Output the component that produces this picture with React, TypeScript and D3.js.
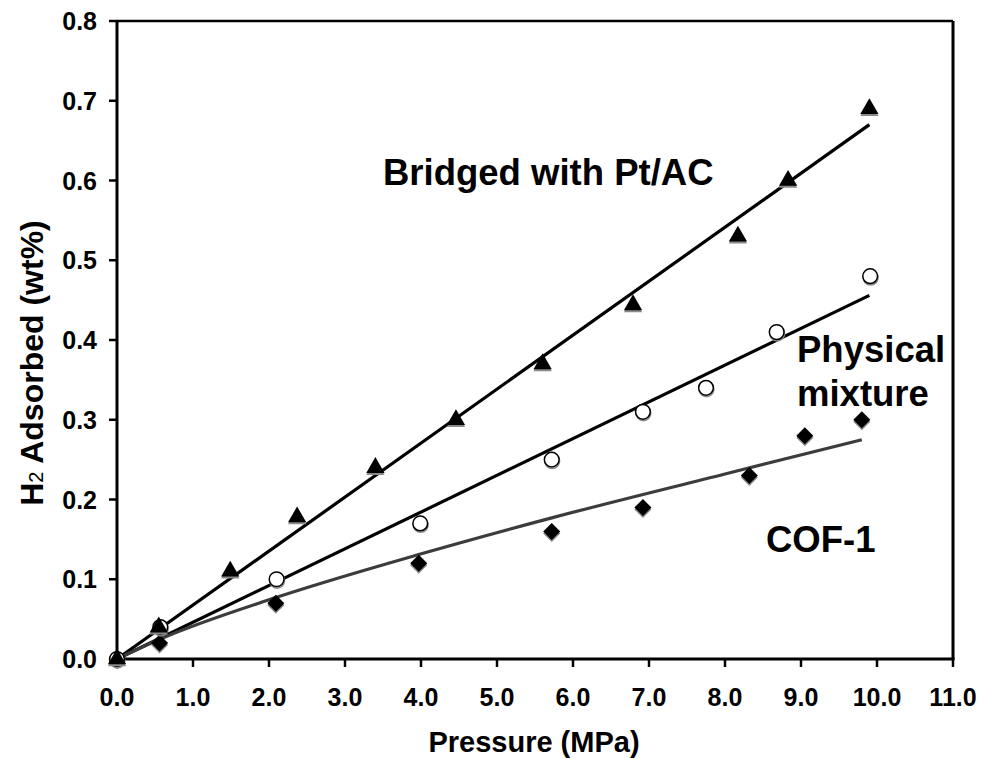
import * as d3 from 'd3';
import React from 'react';

// readings: pressure (MPa) vs H2 adsorbed (wt%)
const bridgedX = [0, 0.55, 1.49, 2.37, 3.4, 4.46, 5.6, 6.79, 8.17, 8.83, 9.9];
const bridgedY = [0, 0.04, 0.11, 0.178, 0.24, 0.30, 0.37, 0.444, 0.53, 0.60, 0.69];

const physicalX = [0, 0.57, 2.1, 3.99, 5.72, 6.92, 7.75, 8.68, 9.91];
const physicalY = [0, 0.04, 0.10, 0.17, 0.25, 0.31, 0.34, 0.41, 0.48];

const cofX = [0, 0.56, 2.09, 3.97, 5.72, 6.92, 8.32, 9.05, 9.8];
const cofY = [0, 0.02, 0.07, 0.12, 0.16, 0.19, 0.23, 0.28, 0.30];

// trend lines as drawn in the picture
const bridgedFit = [[0, 0], [9.9, 0.67]];
const physicalFit = [[0, 0], [9.9, 0.456]];
const cofFit = [[0, 0], [0.57, 0.025], [2.09, 0.077], [3.97, 0.131], [5.72, 0.177], [8.0, 0.232], [9.8, 0.275]];

const xTicks = [0, 1, 2, 3, 4, 5, 6, 7, 8, 9, 10, 11];
const yTicks = [0, 0.1, 0.2, 0.3, 0.4, 0.5, 0.6, 0.7, 0.8];

const params = {
    left: 117,
    right: 953,
    top: 21,
    bottom: 659,
    font: '"Liberation Sans", Arial, sans-serif',
};

const zip = (xs, ys) => xs.map((x, i) => [x, ys[i]]);

export default function App(){
    const x = d3.scaleLinear().domain([0, 11]).range([params.left, params.right]);
    const y = d3.scaleLinear().domain([0, 0.8]).range([params.bottom, params.top]);

    const line = d3.line().x(d => x(d[0])).y(d => y(d[1]));
    const curve = d3.line().x(d => x(d[0])).y(d => y(d[1])).curve(d3.curveMonotoneX);

    const tri = d3.symbol().type(d3.symbolTriangle).size(145)();
    const circ = d3.symbol().type(d3.symbolCircle).size(170)();
    const diam = d3.symbol().type(d3.symbolSquare).size(145)();

    const marker = (pts, kind, key) => pts.map((p, i) => {
        const cx = x(p[0]), cy = y(p[1]);
        if(kind === 'tri'){
            return <g key={key+i}>
                <path d={tri} transform={`translate(${cx},${cy + 2})`} fill="#8a8a8a"/>
                <path d={tri} transform={`translate(${cx},${cy})`} fill="#000"/>
            </g>;
        }
        if(kind === 'circ'){
            return <g key={key+i}>
                <path d={circ} transform={`translate(${cx + 0.5},${cy + 1.5})`} fill="none" stroke="#8a8a8a" strokeWidth={1.6}/>
                <path d={circ} transform={`translate(${cx},${cy})`} fill="#fff" stroke="#000" strokeWidth={1.5}/>
            </g>;
        }
        return <g key={key+i}>
            <path d={diam} transform={`translate(${cx},${cy + 2}) rotate(45)`} fill="#8a8a8a"/>
            <path d={diam} transform={`translate(${cx},${cy}) rotate(45)`} fill="#000"/>
        </g>;
    });

    return(
        <svg width={981} height={759} style={{position:'absolute', left:0, top:0}}
            fontFamily={params.font} fontWeight="bold">
            <rect width={981} height={759} fill="#fff"/>

            {/* frame */}
            <line x1={params.left} x2={params.right} y1={params.top} y2={params.top} stroke="#000" strokeWidth={2.5}/>
            <line x1={params.right} x2={params.right} y1={params.top} y2={params.bottom} stroke="#000" strokeWidth={3}/>
            <line x1={params.left} x2={params.left} y1={params.top - 1} y2={params.bottom + 1.5} stroke="#000" strokeWidth={3}/>
            <line x1={params.left - 1.5} x2={params.right + 1.5} y1={params.bottom} y2={params.bottom} stroke="#000" strokeWidth={3}/>

            {/* ticks */}
            {yTicks.map(t => <g key={'y'+t}>
                <line x1={params.left - 8} x2={params.left} y1={y(t)} y2={y(t)} stroke="#000" strokeWidth={2.5}/>
                <text x={97} y={y(t)} dy="0.36em" textAnchor="end" fontSize={25}>{t.toFixed(1)}</text>
            </g>)}
            {xTicks.map(t => <g key={'x'+t}>
                <line x1={x(t)} x2={x(t)} y1={params.bottom} y2={params.bottom + 8} stroke="#000" strokeWidth={2.5}/>
                <text x={x(t)} y={706} textAnchor="middle" fontSize={25}>{t.toFixed(1)}</text>
            </g>)}

            <text x={534} y={752} textAnchor="middle" fontSize={29}>Pressure (MPa)</text>
            <text transform="translate(43,363) rotate(-90)" textAnchor="middle" fontSize={32}>
                H<tspan fontSize={20} fontWeight="normal">2</tspan> Adsorbed (wt%)
            </text>

            {/* fits */}
            <path d={line(bridgedFit)} fill="none" stroke="#000" strokeWidth={3.2}/>
            <path d={line(physicalFit)} fill="none" stroke="#000" strokeWidth={3.2}/>
            <path d={curve(cofFit)} fill="none" stroke="#3c3c3c" strokeWidth={3.2}/>

            {marker(zip(cofX, cofY), 'diam', 'd')}
            {marker(zip(physicalX, physicalY), 'circ', 'c')}
            {marker(zip(bridgedX, bridgedY), 'tri', 't')}

            <text x={383} y={185} fontSize={36.5}>Bridged with Pt/AC</text>
            <text x={797} y={362} fontSize={36.5}>Physical</text>
            <text x={797} y={406} fontSize={36.5}>mixture</text>
            <text x={766} y={552} fontSize={36.5}>COF-1</text>
        </svg>
    );
}
